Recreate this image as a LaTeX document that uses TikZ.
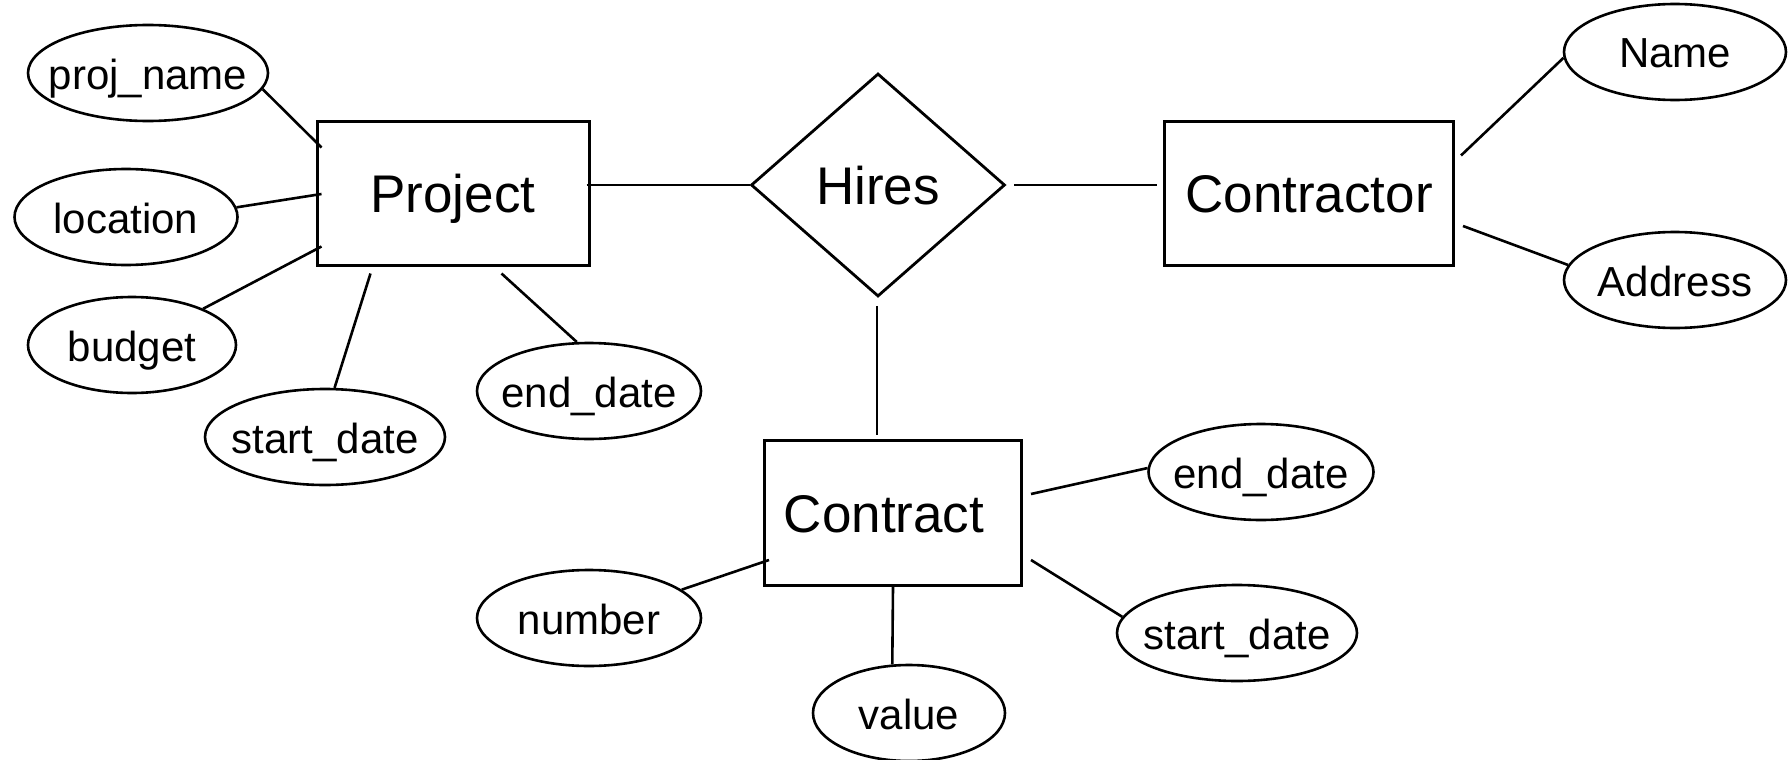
\documentclass[tikz,border=0pt]{standalone}
\usepackage{fontspec}
\setmainfont{Liberation Sans}
\usepackage{tikz}
\usetikzlibrary{shapes.geometric}

% keep the label from widening its ellipse
\newcommand{\slim}[1]{\makebox[0pt]{#1}}

\begin{document}
\begin{tikzpicture}[
    x=1pt, y=-1pt,
    entity/.style={rectangle, draw, line width=3pt, inner sep=0pt, minimum height=144pt, text height=38pt, text depth=0pt, font=\fontsize{53}{60}\selectfont},
    rel/.style={diamond, draw, line width=2.8pt, inner sep=0pt, minimum width=254pt, minimum height=223pt, text height=38pt, text depth=0pt, font=\fontsize{53}{60}\selectfont},
    attr/.style={ellipse, draw, line width=2.6pt, inner sep=0pt, minimum height=96pt, text height=32pt, text depth=0pt, font=\fontsize{42}{48}\selectfont},
    link/.style={line width=2.6pt}
]
\useasboundingbox (0,0) rectangle (1789,760);

% Nodes
\node[entity, minimum width=272pt] (project) at (453,193) {Project};
\node[rel] (hires) at (878,185) {Hires};
\node[entity, minimum width=289pt] (contractor) at (1309,193) {Contractor};
\node[entity, minimum width=257pt, minimum height=145pt] (contract) at (893,513) {Contract\kern18pt};

\node[attr, minimum width=240pt] (pname) at (148,73) {\slim{proj\_name}};
\node[attr, minimum width=223pt] (ploc) at (126,217) {\slim{location}};
\node[attr, minimum width=208pt] (pbudget) at (132,345) {\slim{budget}};
\node[attr, minimum width=240pt] (pstart) at (325,437) {\slim{start\_date}};
\node[attr, minimum width=224pt] (pend) at (589,391) {\slim{end\_date}};

\node[attr, minimum width=222pt] (cname) at (1675,52) {\slim{Name}};
\node[attr, minimum width=222pt] (caddr) at (1675,280) {\slim{Address}};

\node[attr, minimum width=225pt] (kend) at (1261,472) {\slim{end\_date}};
\node[attr, minimum width=240pt] (kstart) at (1237,633) {\slim{start\_date}};
\node[attr, minimum width=224pt] (knumber) at (589,618) {\slim{number}};
\node[attr, minimum width=192pt] (kvalue) at (909,713) {\slim{value}};

% Paths
\draw[link] (pname.-8) -- ([shift={(6,28)}]project.north west);
\draw[link] (ploc.5) -- ([shift={(6,1)}]project.west);
\draw[link] (pbudget.27) -- ([shift={(6,-20)}]project.south west);
\draw[link] (pstart.79) -- ([shift={(55,7)}]project.south west);
\draw[link] (pend.104) -- ([shift={(186,7)}]project.south west);

\draw[link] ([shift={(-4,-8)}]project.east) -- (hires.west);
\draw[link] ([shift={(8,0)}]hires.east) -- ([shift={(-6,-8)}]contractor.west);
\draw[link] ([shift={(-1,8)}]hires.south) -- ([shift={(-16,-4)}]contract.north);

\draw[link] ([shift={(6,36)}]contractor.north east) -- (cname.183);
\draw[link] ([shift={(8,33)}]contractor.east) -- (caddr.172);

\draw[link] ([shift={(8,-19)}]contract.east) -- (kend.178);
\draw[link] ([shift={(8,47)}]contract.east) -- (kstart.172);
\draw[link] (knumber.17) -- ([shift={(6,47)}]contract.west);
\draw[link] (contract.south) -- (kvalue.109);

\end{tikzpicture}
\end{document}
